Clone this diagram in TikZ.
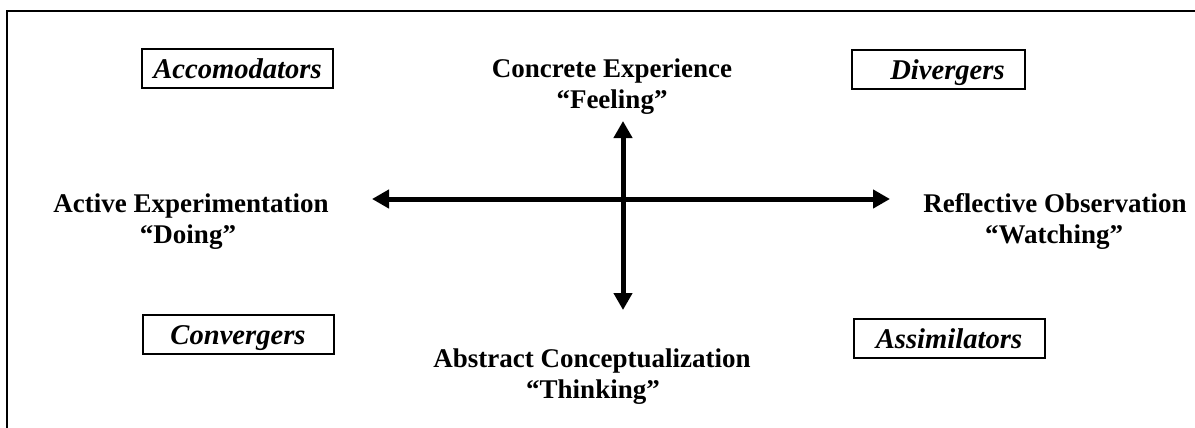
\documentclass[tikz,border=0pt]{standalone}
\usepackage{fontspec}
\setmainfont{Liberation Serif}
\usetikzlibrary{arrows.meta}
\begin{document}
\begin{tikzpicture}[x=0.5pt,y=-0.5pt,
    lbl/.style={font=\fontsize{13.5}{15.5}\selectfont\bfseries,inner sep=0pt,anchor=base},
    stylebox/.style={draw,line width=1pt,minimum width=95.5pt,minimum height=19.5pt,
      inner sep=0pt,text height=10pt,text depth=0pt,
      font=\fontsize{14.3}{16}\selectfont\bfseries\itshape},
    axis/.style={line width=2.5pt,{Triangle[length=8.5pt,width=9pt]}-{Triangle[length=8.5pt,width=9pt]}}]
  \useasboundingbox (0,0) rectangle (1195,428);
  \draw[line width=1pt] (7,428) -- (7,10.5) -- (1195,10.5);

  % learning styles
  \node[stylebox] (accom) at (237.5,68.5) {Accomodators};
  \node[stylebox,minimum width=86.5pt] (diverg) at (938.5,69) {\hspace*{9pt}Divergers};
  \node[stylebox] (converg) at (238,334) {Convergers};
  \node[stylebox] (assim) at (949,338) {Assimilators};

  % the four modes
  \node[lbl] (ce) at (612,77) {Concrete Experience};
  \node[lbl] (feeling) at (612,108) {``Feeling''};
  \node[lbl] (ae) at (191,212) {Active Experimentation};
  \node[lbl] (doing) at (188,243) {``Doing''};
  \node[lbl] (ro) at (1055,212) {Reflective Observation};
  \node[lbl] (watching) at (1054,243) {``Watching''};
  \node[lbl] (ac) at (592,367) {Abstract Conceptualization};
  \node[lbl] (thinking) at (593,398) {``Thinking''};

  \coordinate (west) at (372,199);
  \coordinate (east) at (890,199);
  \coordinate (north) at (623,121);
  \coordinate (south) at (623,310);
  \draw[axis] (west) -- (east);
  \draw[axis] (north) -- (south);
\end{tikzpicture}
\end{document}
